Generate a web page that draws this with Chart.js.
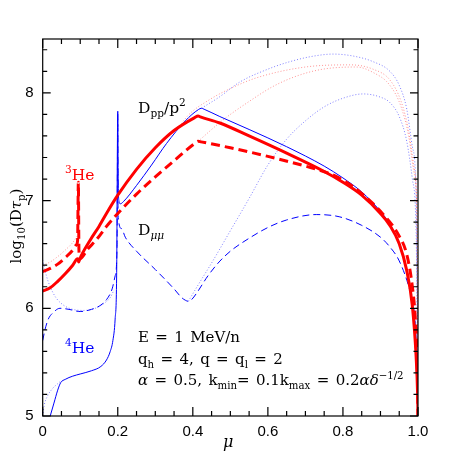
<!DOCTYPE html>
<html><head><meta charset="utf-8">
<script src="https://cdn.jsdelivr.net/npm/chart.js@4.4.1/dist/chart.umd.min.js"></script>
<style>html,body{margin:0;padding:0;background:#fff}canvas{display:block}</style>
</head><body>
<canvas id="c" width="458" height="458"></canvas>
<script>
// ---- data (mu, log10(D tau_p)) ----
const xTicks = [0, 0.2, 0.4, 0.6, 0.8, 1];
const yTicks = [5, 6, 7, 8];
const xMinorStep = 0.05;
const yMinorStep = 0.2;

const redSolid = [[0,6.16],[0.02,6.19],[0.04,6.25],[0.06,6.32],[0.08,6.40],[0.093,6.46],[0.096,6.43],[0.099,6.46],[0.126,6.63],[0.15,6.76],[0.175,6.91],[0.2,7.05],[0.25,7.29],[0.3,7.49],[0.35,7.65],[0.405,7.77],[0.414,7.785],[0.42,7.777],[0.472,7.72],[0.55,7.6],[0.65,7.44],[0.75,7.27],[0.8,7.17],[0.85,7.05],[0.9,6.88],[0.925,6.77],[0.95,6.6],[0.97,6.35],[0.985,6.02],[0.995,5.55],[0.999,5.2],[1,5]];
const redDashed = [[0,6.34],[0.02,6.37],[0.04,6.41],[0.06,6.47],[0.08,6.54],[0.09,6.59],[0.093,6.63],[0.095,7.17],[0.0965,6.55],[0.099,6.46],[0.12,6.55],[0.144,6.64],[0.17,6.76],[0.2,6.88],[0.25,7.06],[0.3,7.22],[0.35,7.37],[0.405,7.53],[0.414,7.55],[0.422,7.545],[0.5,7.49],[0.6,7.41],[0.7,7.32],[0.765,7.25],[0.8,7.19],[0.845,7.08],[0.9,6.9],[0.95,6.67],[0.97,6.5],[0.985,6.2],[0.993,5.9],[0.998,5.5],[1,5]];
const blueSolid = [[0.02,5.0],[0.03,5.12],[0.04,5.24],[0.048,5.31],[0.06,5.34],[0.08,5.37],[0.1,5.39],[0.13,5.42],[0.155,5.46],[0.17,5.52],[0.18,5.6],[0.187,5.7],[0.193,5.9],[0.197,6.3],[0.2,7.83],[0.201,7.25],[0.203,7.0],[0.207,6.97],[0.215,6.99],[0.25,7.14],[0.29,7.33],[0.33,7.53],[0.38,7.74],[0.415,7.845],[0.423,7.857],[0.43,7.848],[0.472,7.78],[0.55,7.66],[0.65,7.5],[0.75,7.32],[0.8,7.21],[0.85,7.08],[0.9,6.9],[0.925,6.78],[0.95,6.6],[0.97,6.35],[0.985,6.0],[0.995,5.5],[1,5]];
const blueDashed = [[0,5.7],[0.006,5.8],[0.015,5.9],[0.028,5.96],[0.046,6.0],[0.07,5.99],[0.1,5.97],[0.13,5.99],[0.155,6.03],[0.17,6.08],[0.185,6.18],[0.193,6.3],[0.198,6.55],[0.2,7.8],[0.2008,6.86],[0.21,6.74],[0.22,6.66],[0.25,6.53],[0.3,6.36],[0.35,6.18],[0.37,6.1],[0.38,6.075],[0.388,6.065],[0.396,6.078],[0.41,6.14],[0.44,6.3],[0.47,6.43],[0.5,6.53],[0.55,6.65],[0.6,6.75],[0.65,6.82],[0.729,6.87],[0.79,6.85],[0.85,6.77],[0.9,6.66],[0.925,6.57],[0.95,6.44],[0.978,6.17],[0.99,5.98],[0.997,5.5],[1,5]];
const blueDotLowLeft = [[0,5.0],[0.004,5.1],[0.012,5.18],[0.025,5.25],[0.04,5.3],[0.05,5.33]];
const blueDotUpLeft = [[0,6.45],[0.01,6.3],[0.02,6.2],[0.035,6.1],[0.055,6.03],[0.08,5.99],[0.11,5.98],[0.14,6.0],[0.165,6.05],[0.18,6.1],[0.19,6.17]];
const blueDotUpper = [[0.423,7.857],[0.47,7.96],[0.525,8.1],[0.6,8.22],[0.659,8.29],[0.72,8.34],[0.774,8.36],[0.83,8.34],[0.88,8.29],[0.925,8.2],[0.95,8.07],[0.97,7.85],[0.985,7.5],[0.995,7.05],[1,5]];
const blueDotLower = [[0.388,6.065],[0.42,6.25],[0.45,6.42],[0.5,6.72],[0.55,7.02],[0.6,7.33],[0.65,7.57],[0.7,7.74],[0.75,7.87],[0.8,7.95],[0.854,7.99],[0.9,7.96],[0.925,7.91],[0.95,7.78],[0.97,7.55],[0.985,7.2],[0.995,6.7],[1,5]];
const redDotLeft = [[0,6.4],[0.02,6.43],[0.04,6.48],[0.06,6.54],[0.08,6.61],[0.094,6.68]];
const redDotUpper = [[0.36,7.67],[0.39,7.8],[0.446,7.94],[0.5,8.04],[0.57,8.14],[0.7,8.24],[0.82,8.26],[0.88,8.22],[0.925,8.12],[0.955,7.92],[0.975,7.65],[0.99,7.3],[0.997,6.9],[1,5]];
const redDotLower = [[0.414,7.55],[0.481,7.75],[0.55,7.92],[0.614,8.06],[0.68,8.16],[0.747,8.22],[0.836,8.24],[0.88,8.19],[0.925,8.07],[0.955,7.87],[0.975,7.6],[0.99,7.25],[0.997,6.9],[1,5]];

const pts = a => a.map(([x, y]) => ({x, y}));
const RED = '#ff0000', BLUE = '#0000ff';
const RED_DOT = 'rgba(255,0,0,0.42)', BLUE_DOT = 'rgba(0,0,255,0.5)';

function ds(data, color, width, dash, order) {
  return {data: pts(data), borderColor: color, borderWidth: width, borderDash: dash,
    pointRadius: 0, fill: false, cubicInterpolationMode: 'monotone', order: order,
    borderJoinStyle: 'miter'};
}

const SERIF = '"DejaVu Serif", "Liberation Serif", serif';
const SPACE_EXTRA = 1.6;

function setFont(ctx, p, size) {
  const s = p.s ? size * 0.68 : size;
  ctx.font = (p.i ? 'italic ' : '') + s + 'px ' + SERIF;
}
function segW(ctx, t) {
  const n = (t.match(/ /g) || []).length;
  return ctx.measureText(t).width + n * SPACE_EXTRA;
}
function richWidth(ctx, parts, size) {
  let w = 0;
  for (const p of parts) { setFont(ctx, p, size); w += segW(ctx, p.t); }
  return w;
}
function rich(ctx, x, y, parts, size, color) {
  ctx.fillStyle = color;
  ctx.textBaseline = 'alphabetic';
  ctx.textAlign = 'left';
  let cx = x;
  for (const p of parts) {
    setFont(ctx, p, size);
    const dy = p.s === 'b' ? size * 0.28 : p.s === 'p' ? -size * 0.42 : 0;
    const words = p.t.split(' ');
    words.forEach((wd, k) => {
      ctx.fillText(wd, cx, y + dy);
      cx += ctx.measureText(wd).width;
      if (k < words.length - 1) cx += ctx.measureText(' ').width + SPACE_EXTRA;
    });
  }
}

const frame = {
  id: 'frame',
  afterDraw(chart) {
    const {ctx, chartArea: a, scales: {x, y}} = chart;
    ctx.save();
    ctx.strokeStyle = '#000';
    ctx.lineWidth = 1.2;
    ctx.strokeRect(a.left, a.top, a.right - a.left, a.bottom - a.top);
    ctx.beginPath();
    for (let i = 0; x.min + i * xMinorStep <= x.max + 1e-9; i++) {
      const v = x.min + i * xMinorStep;
      const px = x.getPixelForValue(v);
      const L = xTicks.some(t => Math.abs(t - v) < 1e-9) ? 9 : 5;
      ctx.moveTo(px, a.bottom); ctx.lineTo(px, a.bottom - L);
      ctx.moveTo(px, a.top); ctx.lineTo(px, a.top + L);
    }
    for (let i = 0; y.min + i * yMinorStep <= y.max + 1e-9; i++) {
      const v = y.min + i * yMinorStep;
      const py = y.getPixelForValue(v);
      const L = yTicks.some(t => Math.abs(t - v) < 1e-9) ? 8 : 4.5;
      ctx.moveTo(a.left, py); ctx.lineTo(a.left + L, py);
      ctx.moveTo(a.right, py); ctx.lineTo(a.right - L, py);
    }
    ctx.stroke();

    // annotations
    rich(ctx, 138, 113, [{t:'D'},{t:'pp',s:'b'},{t:'/p'},{t:'2',s:'p'}], 15.5, '#000');
    rich(ctx, 138, 235, [{t:'D'},{t:'μμ',s:'b',i:true}], 15.5, '#000');
    rich(ctx, 65, 180, [{t:'3',s:'p'},{t:'He'}], 15.5, RED);
    rich(ctx, 65, 353, [{t:'4',s:'p'},{t:'He'}], 15.5, BLUE);
    rich(ctx, 138, 342, [{t:'E = 1 MeV/n'}], 15, '#000');
    rich(ctx, 138, 364, [{t:'q'},{t:'h',s:'b'},{t:' = 4, q = q'},{t:'l',s:'b'},{t:' = 2'}], 15, '#000');
    rich(ctx, 138, 385, [{t:'α',i:true},{t:' = 0.5, k'},{t:'min',s:'b'},{t:'= 0.1k'},{t:'max',s:'b'},{t:' = 0.2'},{t:'αδ',i:true},{t:'−1/2',s:'p'}], 15, '#000');

    // axis titles
    rich(ctx, 223, 447, [{t:'μ',i:true}], 16, '#000');
    const yl = [{t:'log'},{t:'10',s:'b'},{t:'(D'},{t:'τ',i:true},{t:'p',s:'b'},{t:')'}];
    ctx.save();
    ctx.translate(21, 226);
    ctx.rotate(-Math.PI / 2);
    const w = richWidth(ctx, yl, 15);
    rich(ctx, -w / 2, 0, yl, 15, '#000');
    ctx.restore();
    ctx.restore();
  }
};

new Chart(document.getElementById('c'), {
  type: 'line',
  data: {
    datasets: [
      ds(redSolid, RED, 3, [], 0),
      ds(redDashed, RED, 3, [9, 5], 1),
      ds(blueSolid, BLUE, 1, [], 2),
      ds(blueDashed, BLUE, 1, [7, 4], 3),
      ds(redDotLeft, RED_DOT, 1, [1, 2], 4),
      ds(redDotUpper, RED_DOT, 1, [1, 2], 4),
      ds(redDotLower, RED_DOT, 1, [1, 2], 4),
      ds(blueDotLowLeft, BLUE_DOT, 1, [1, 2], 5),
      ds(blueDotUpLeft, BLUE_DOT, 1, [1, 2], 5),
      ds(blueDotUpper, BLUE_DOT, 1, [1, 2], 5),
      ds(blueDotLower, BLUE_DOT, 1, [1, 2], 5)
    ]
  },
  options: {
    responsive: false,
    animation: false,
    devicePixelRatio: 1,
    layout: {padding: {top: 39, right: 40, left: 0, bottom: 0}},
    plugins: {legend: {display: false}, tooltip: {enabled: false}},
    scales: {
      x: {
        type: 'linear', min: 0, max: 1,
        grid: {display: false, drawTicks: false},
        border: {display: false},
        afterBuildTicks: s => { s.ticks = xTicks.map(v => ({value: v})); },
        afterFit: s => { s.height = 42; },
        ticks: {padding: 7, color: '#000', maxRotation: 0,
          font: {family: '"Liberation Sans", Arial, sans-serif', size: 15}}
      },
      y: {
        type: 'linear', min: 5, max: 8.5,
        grid: {display: false, drawTicks: false},
        border: {display: false},
        afterBuildTicks: s => { s.ticks = yTicks.map(v => ({value: v})); },
        afterFit: s => { s.width = 42.7; },
        ticks: {padding: 9, color: '#000',
          font: {family: '"Liberation Sans", Arial, sans-serif', size: 15}}
      }
    }
  },
  plugins: [frame]
});
</script>
</body></html>
